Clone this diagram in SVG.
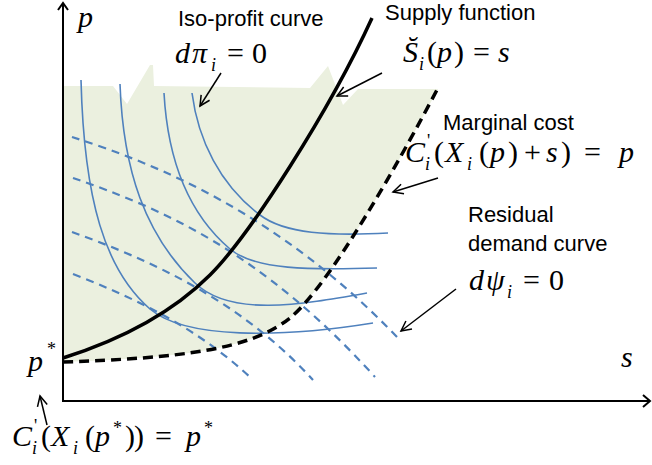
<svg xmlns="http://www.w3.org/2000/svg" width="652" height="465" viewBox="0 0 652 465">
<defs>
<marker id="ah" markerUnits="userSpaceOnUse" markerWidth="14" markerHeight="12" refX="11" refY="6" orient="auto"><path d="M1,1 L11,6 L1,11" fill="none" stroke="#000" stroke-width="1.5"/></marker>
</defs>
<style>
.sans{font-family:"Liberation Sans",Arial,sans-serif;font-size:22px;fill:#000}
.m{font-family:"Liberation Serif","Times New Roman",serif;font-size:30px;fill:#000}
.it{font-style:italic}
.sub{font-size:18px}
.sup{font-size:18px}
.iso{fill:none;stroke:#4F81BD;stroke-width:1.6}
.rd{fill:none;stroke:#4F81BD;stroke-width:2.2;stroke-dasharray:8 6}
.ann{fill:none;stroke:#000;stroke-width:1.5;marker-end:url(#ah)}
.ax{fill:none;stroke:#000;stroke-width:2}
</style>
<rect width="652" height="465" fill="#fff"/>
<g id="region">
<path d="M63,86 L113,86 L127,104 L150,65 L153,65 L154,86 L310,88 L328,66 L343,105 L358,89 L438,89 C400,160 330,285 290,318 C250,350 180,358 63,362 Z" fill="#EBF0DF"/>
</g>
<g id="axes">
<path class="ax" d="M63,402 L63,4"/>
<path class="ax" d="M58,10 L63,3 L68,10"/>
<path class="ax" d="M62,401 L650,401"/>
<path class="ax" d="M643,395 L650,401 L643,407"/>
</g>
<g id="iso-profit">
<path class="iso" d="M81,80 C84,200 105,270 150,309 C185,339 280,338 373,323"/>
<path class="iso" d="M120,84 C123,170 145,235 195,283 C230,317 300,305 367,293"/>
<path class="iso" d="M164,93 C168,165 190,215 230,249 C255,270 310,270 377,268"/>
<path class="iso" d="M192,93 C198,140 220,185 260,215 C285,234 330,236 388,233"/>
</g>
<g id="residual-demand">
<path class="rd" d="M72,137 C160,165 280,215 397,337"/>
<path class="rd" d="M73,178 C160,208 260,250 375,377"/>
<path class="rd" d="M72,232 C150,260 240,300 313,380"/>
<path class="rd" d="M73,274 C140,300 200,330 252,379"/>
</g>
<g id="supply">
<path d="M63,358 C120,340 170,315 210,275 C250,235 330,110 372,18" fill="none" stroke="#000" stroke-width="3.5"/>
</g>
<g id="marginal-cost">
<path d="M63,362 C180,358 250,350 290,318 C330,285 400,160 438,88" fill="none" stroke="#000" stroke-width="3.5" stroke-dasharray="10 6"/>
</g>
<g id="connectors">
<path class="ann" d="M221,73 L200,106"/>
<path class="ann" d="M382,73 L337,96"/>
<path class="ann" d="M438,178 L393,192"/>
<path class="ann" d="M456,289 L401,331"/>
<path class="ann" d="M47,425 L40,396"/>
</g>
<g id="labels">
<text class="m it" x="78" y="27">p</text>
<text class="m it" x="621" y="367">s</text>
<text class="m" y="371"><tspan class="it" x="28">p</tspan><tspan class="sup" x="47" y="355">*</tspan></text>
<text class="sans" x="178" y="26">Iso-profit curve</text>
<text class="m" y="63"><tspan class="it" x="175">d</tspan><tspan class="it" x="192">π</tspan><tspan class="it sub" x="211" y="71">i</tspan><tspan x="227" y="63">=</tspan><tspan x="252">0</tspan></text>
<text class="sans" x="385" y="20">Supply function</text>
<text class="m" y="62"><tspan class="it" x="403">S&#x306;</tspan><tspan class="it sub" x="419" y="70">i</tspan><tspan x="427" y="62">(</tspan><tspan class="it" x="437">p</tspan><tspan x="454">)</tspan><tspan x="473">=</tspan><tspan class="it" x="498">s</tspan></text>
<text class="sans" x="443" y="130">Marginal cost</text>
<text class="m" y="162"><tspan class="it" x="405">C</tspan><tspan class="sup" x="427" y="147">'</tspan><tspan class="it sub" x="425" y="170">i</tspan><tspan x="434" y="162">(</tspan><tspan class="it" x="445">X</tspan><tspan class="it sub" x="467" y="170">i</tspan><tspan x="479" y="162">(</tspan><tspan class="it" x="490">p</tspan><tspan x="508">)</tspan><tspan x="524">+</tspan><tspan class="it" x="546">s</tspan><tspan x="561">)</tspan><tspan x="584">=</tspan><tspan class="it" x="619">p</tspan></text>
<text class="sans" x="468" y="222">Residual</text>
<text class="sans" x="468" y="251">demand curve</text>
<text class="m" y="290"><tspan class="it" x="469">d</tspan><tspan class="it" x="486">ψ</tspan><tspan class="it sub" x="507" y="298">i</tspan><tspan x="523" y="290">=</tspan><tspan x="549">0</tspan></text>
<text class="m" y="446"><tspan class="it" x="12">C</tspan><tspan class="sup" x="34" y="432">'</tspan><tspan class="it sub" x="32" y="454">i</tspan><tspan x="41" y="446">(</tspan><tspan class="it" x="51">X</tspan><tspan class="it sub" x="73" y="454">i</tspan><tspan x="85" y="446">(</tspan><tspan class="it" x="95">p</tspan><tspan class="sup" x="113" y="434">*</tspan><tspan x="125" y="446">)</tspan><tspan x="134">)</tspan><tspan x="155">=</tspan><tspan class="it" x="186">p</tspan><tspan class="sup" x="204" y="434">*</tspan></text>
</g>
</svg>
